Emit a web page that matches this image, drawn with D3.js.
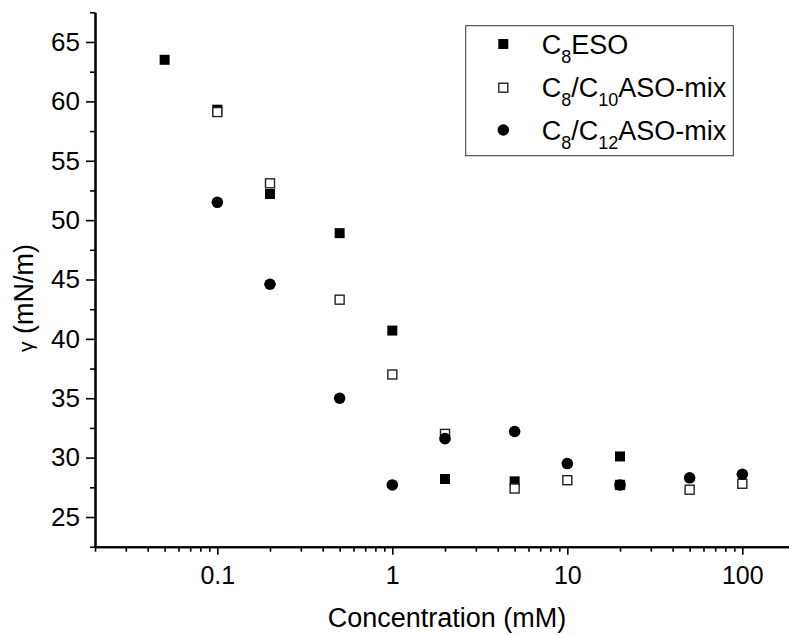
<!DOCTYPE html>
<meta charset="utf-8">
<style>
  body { margin: 0; background: #fff; }
  svg { display: block; font-family: "Liberation Sans", Arial, sans-serif; }
</style>
<svg width="789" height="635"></svg>
<script src="https://cdn.jsdelivr.net/npm/d3@7"></script>
<script>

// concentrations (mM) and surface tension (mN/m)
var esoConc = [0.05, 0.1, 0.2, 0.5, 1, 2, 5, 20];
var esoGamma = [63.5, 59.3, 52.2, 48.9, 40.7, 28.2, 28.0, 30.1];

var c10Conc = [0.1, 0.2, 0.5, 1, 2, 5, 10, 20, 50, 100];
var c10Gamma = [59.1, 53.1, 43.3, 37.0, 32.0, 27.4, 28.1, 27.7, 27.3, 27.8];

var c12Conc = [0.1, 0.2, 0.5, 1, 2, 5, 10, 20, 50, 100];
var c12Gamma = [51.5, 44.6, 35.0, 27.7, 31.6, 32.2, 29.5, 27.7, 28.3, 28.6];

var xTickValues = [0.1, 1, 10, 100];
var yTickValues = [25, 30, 35, 40, 45, 50, 55, 60, 65];

var svg = d3.select("svg");

var x = d3.scaleLog().domain([0.02, 200]).range([95, 795]);
var y = d3.scaleLinear().domain([22.5, 67.5]).range([546.7, 12.3]);

// minor ticks
var xMinor = [];
[0.01, 0.1, 1, 10, 100].forEach(function(d) {
  for (var k = 2; k <= 9; k++) {
    var v = +(d * k).toPrecision(3);
    if (v >= 0.02 && v <= 200) xMinor.push(v);
  }
});
var yMinor = d3.range(22.5, 68, 5);

// axes
svg.append("g")
    .attr("transform", "translate(0,546.7)")
    .call(d3.axisBottom(x).tickValues(xMinor).tickSize(5).tickSizeOuter(0).tickFormat(""));
var xAxis = svg.append("g")
    .attr("transform", "translate(0,546.7)")
    .call(d3.axisBottom(x).tickValues(xTickValues).tickSize(8).tickSizeOuter(0)
      .tickPadding(12).tickFormat(function(d) { return d3.format("")(d); }));

svg.append("g")
    .attr("transform", "translate(95,0)")
    .call(d3.axisLeft(y).tickValues(yMinor).tickSize(5).tickSizeOuter(0).tickFormat(""));
var yAxis = svg.append("g")
    .attr("transform", "translate(95,0)")
    .call(d3.axisLeft(y).tickValues(yTickValues).tickSize(9).tickSizeOuter(0).tickPadding(6));

svg.selectAll(".domain").attr("stroke", "#000").attr("stroke-width", 2);
svg.selectAll(".tick line").attr("stroke", "#000").attr("stroke-width", 1.6);
xAxis.selectAll("text").attr("font-size", 25).attr("fill", "#000").attr("font-family", "Liberation Sans, Arial, sans-serif");
yAxis.selectAll("text").attr("font-size", 26).attr("fill", "#000").attr("font-family", "Liberation Sans, Arial, sans-serif");

// axis titles
svg.append("text")
    .attr("x", 447)
    .attr("y", 627)
    .attr("text-anchor", "middle")
    .attr("font-size", 27)
    .text("Concentration (mM)");

var yTitle = svg.append("text")
    .attr("transform", "translate(33,298) rotate(-90)")
    .attr("text-anchor", "middle")
    .attr("font-size", 27);
yTitle.append("tspan").attr("font-size", 21).text("γ");
yTitle.append("tspan").text(" (mN/m)");

// markers
function zip(xs, ys) { return xs.map(function(d, i) { return [d, ys[i]]; }); }

svg.append("g").selectAll("rect")
  .data(zip(esoConc, esoGamma))
  .join("rect")
    .attr("x", function(d) { return x(d[0]) - 5; })
    .attr("y", function(d) { return y(d[1]) - 5; })
    .attr("width", 10)
    .attr("height", 10)
    .attr("fill", "#000");

svg.append("g").selectAll("rect")
  .data(zip(c10Conc, c10Gamma))
  .join("rect")
    .attr("x", function(d) { return x(d[0]) - 4.5; })
    .attr("y", function(d) { return y(d[1]) - 4.5; })
    .attr("width", 9)
    .attr("height", 9)
    .attr("fill", "#fff")
    .attr("stroke", "#222")
    .attr("stroke-width", 1.4);

svg.append("g").selectAll("circle")
  .data(zip(c12Conc, c12Gamma))
  .join("circle")
    .attr("cx", function(d) { return x(d[0]); })
    .attr("cy", function(d) { return y(d[1]); })
    .attr("r", 5.8)
    .attr("fill", "#000");

// legend
var legend = svg.append("g");
legend.append("rect")
    .attr("x", 465.7).attr("y", 25.7)
    .attr("width", 267.6).attr("height", 130)
    .attr("fill", "#fff").attr("stroke", "#333").attr("stroke-width", 1);

var rows = [
  { main: ["C", "ESO"], sub: ["8"] },
  { main: ["C", "/C", "ASO-mix"], sub: ["8", "10"] },
  { main: ["C", "/C", "ASO-mix"], sub: ["8", "12"] }
];
var rowY = [44, 87.7, 130];

legend.append("rect").attr("x", 498.3).attr("y", rowY[0] - 5).attr("width", 10).attr("height", 10).attr("fill", "#000");
legend.append("rect").attr("x", 498.8).attr("y", rowY[1] - 4.5).attr("width", 9).attr("height", 9)
    .attr("fill", "#fff").attr("stroke", "#222").attr("stroke-width", 1.4);
legend.append("circle").attr("cx", 503.3).attr("cy", rowY[2]).attr("r", 5.8).attr("fill", "#000");

rows.forEach(function(r, i) {
  var t = legend.append("text")
      .attr("x", 541.7)
      .attr("y", rowY[i] + 9.5)
      .attr("font-size", 27);
  r.main.forEach(function(m, j) {
    t.append("tspan").attr("dy", j === 0 ? 0 : -9).text(m);
    if (r.sub[j] !== undefined) {
      t.append("tspan").attr("dy", 9).attr("font-size", 18).text(r.sub[j]);
    }
  });
});

</script>
